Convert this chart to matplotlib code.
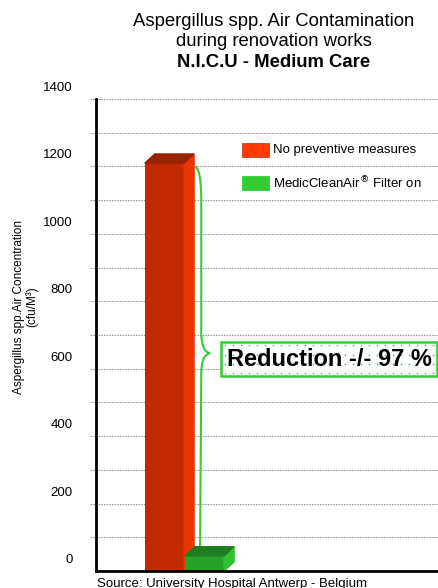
import numpy as np
import matplotlib.pyplot as plt
from matplotlib.patches import Polygon, Rectangle
from matplotlib.path import Path
from matplotlib.patches import PathPatch
from matplotlib.transforms import ScaledTranslation

plt.rcParams['font.family'] = ['Liberation Sans', 'DejaVu Sans']

series = ['No preventive measures', 'MedicCleanAir$^{®}$ Filter on']
values = [1210, 45]
positions = [0, 1]
ytick_vals = [0, 200, 400, 600, 800, 1000, 1200, 1400]
reduction_label = 'Reduction -/- 97 %'

front_cols = ['#c42a00', '#27a127']
side_cols = ['#ea3300', '#33bf33']
top_cols = ['#982200', '#1f7d1f']
legend_cols = ['#ff3a00', '#33cc33']

fig = plt.figure(figsize=(4.39, 5.88), dpi=100)
ax = fig.add_axes([0.2187, 0.0289, 0.7813, 0.8027])
ax.set_xlim(-1.71, 6.86)
ax.set_ylim(0, 1400)

# dashed grid every 100, labels every 200 sitting above their lines
for y in range(100, 1401, 100):
    ax.plot([-0.018, 1.0], [y, y], transform=ax.get_yaxis_transform(), clip_on=False,
            color='#888888', lw=0.6, ls=(0, (2, 1.2)), zorder=0)
ax.set_yticks(ytick_vals)
ax.set_yticklabels([str(v) for v in ytick_vals], fontsize=9.5)
ax.tick_params(axis='y', length=0, pad=17)
for lab in ax.get_yticklabels():
    lab.set_transform(lab.get_transform() + ScaledTranslation(0, 9 / 72, fig.dpi_scale_trans))
ax.set_xticks([])
for s in ['top', 'right']:
    ax.spines[s].set_visible(False)
ax.spines['left'].set_linewidth(2)
ax.spines['bottom'].set_linewidth(2)
ax.spines['left'].set_zorder(5)
ax.spines['bottom'].set_zorder(5)

ax.set_ylabel('Aspergillus spp.Air Concentration\n(cfu/M³)', fontsize=8.5,
              linespacing=1.1)
ax.yaxis.set_label_coords(-0.168, 0.56)

# pseudo 3D bars
width = 0.98
dx, dy = 0.25, 27
for x, v, fc, sc, tc in zip(positions, values, front_cols, side_cols, top_cols):
    ax.bar(x, v, width=width, color=fc, zorder=3)
    l, r = x - width / 2, x + width / 2
    ax.add_patch(Polygon([(r, 0), (r + dx, dy), (r + dx, v + dy), (r, v)],
                         closed=True, color=sc, zorder=3))
    ax.add_patch(Polygon([(l, v), (l + dx, v + dy), (r + dx, v + dy), (r, v)],
                         closed=True, color=tc, zorder=3))

# brace between the two bars
bx = positions[0] + width / 2 + dx + 0.18
y0 = values[0] - 10
y1 = values[1] + dy
ym = (y0 + y1) / 2 + 10
verts = [(bx - 0.15, y0), (bx, y0 - 10), (bx, y0 - 100),
         (bx, ym + 60),
         (bx, ym + 5), (bx + 0.22, ym),
         (bx, ym - 5), (bx, ym - 60),
         (bx - 0.03, y1)]
codes = [Path.MOVETO, Path.CURVE3, Path.CURVE3,
         Path.LINETO,
         Path.CURVE3, Path.CURVE3,
         Path.CURVE3, Path.CURVE3,
         Path.LINETO]
ax.add_patch(PathPatch(Path(verts, codes), fill=False, edgecolor='#33cc33', lw=1.5, zorder=2))

# reduction box with a dotted fill
bl, bw, bb, bh = 1.41, 5.40, ym - 68, 100
ax.add_patch(Rectangle((bl, bb), bw, bh, facecolor='white', edgecolor='none', zorder=4))
gx, gy = np.meshgrid(np.arange(bl + 0.1, bl + bw - 0.05, 0.2),
                     np.arange(bb + 10, bb + bh - 5, 27))
ax.scatter(gx.ravel(), gy.ravel(), s=1.5, color='#44cc44', linewidths=0, zorder=4)
ax.add_patch(Rectangle((bl, bb), bw, bh, facecolor='none', edgecolor='#33cc33',
                       lw=1.8, zorder=5))
ax.text(bl + bw / 2, bb + bh / 2, reduction_label, fontsize=17, fontweight='bold',
        ha='center', va='center', zorder=6)

# legend
for i, (name, c) in enumerate(zip(series, legend_cols)):
    ly = 1249 - i * 98
    ax.add_patch(Rectangle((1.93, ly - 22), 0.68, 44, facecolor=c,
                           edgecolor='#bb4a2a' if i == 0 else c, lw=0.6, zorder=4))
    ax.text(2.7, ly, name, fontsize=9.5, va='center', ha='left', zorder=4)

fig.text(0.624, 0.963, 'Aspergillus spp. Air Contamination', fontsize=13.3, ha='center', va='center')
fig.text(0.624, 0.929, 'during renovation works', fontsize=13.3, ha='center', va='center')
fig.text(0.624, 0.893, 'N.I.C.U - Medium Care', fontsize=13.3, fontweight='bold',
         ha='center', va='center')
fig.text(0.221, 0.006, 'Source: University Hospital Antwerp - Belgium', fontsize=9.5,
         ha='left', va='center')

fig.savefig('out.png', dpi=100)
